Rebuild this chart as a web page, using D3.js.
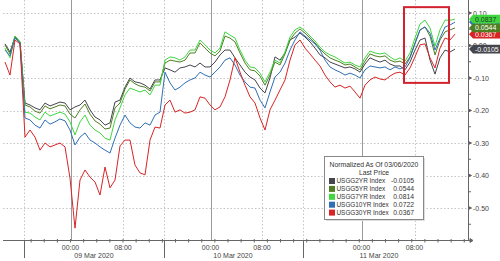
<!DOCTYPE html>
<html>
<head>
<meta charset="utf-8">
<script src="https://cdn.jsdelivr.net/npm/d3@7/dist/d3.min.js"></script>
<style>
  body { margin: 0; background: #fff; }
  svg { display: block; font-family: "Liberation Sans", Arial, sans-serif; }
  .grid line { stroke: #c4c4c4; stroke-dasharray: 1.5,2; }
  .grid line.solid { stroke: #9a9a9a; stroke-dasharray: none; }
  .axis text { fill: #444; font-size: 7px; }
  .axis line, .axis path { stroke: #666; }
</style>
</head>
<body>
<svg id="chart" width="500" height="261"></svg>
<script>
// ---- data: normalized yield change since 03/06/2020, one sample per slot ----
const seriesNames = ["USGG2YR Index", "USGG5YR Index", "USGG7YR Index", "USGG10YR Index", "USGG30YR Index"];
const lastPrices  = ["-0.0105", "0.0544", "0.0814", "0.0722", "0.0367"];
const tagText     = ["-0.0105", "0.0544", "0.0837", "0.0722", "0.0367"];
const colors      = ["#45454d", "#4f7f22", "#3fd63f", "#2f6fb6", "#d82424"];

const usgg2yr = [0.005, -0.020, 0.026, 0.011, -0.177, -0.183, -0.192, -0.198, -0.177, -0.186,
  -0.180, -0.174, -0.177, -0.198, -0.189, -0.183, -0.168, -0.198, -0.220, -0.229,
  -0.245, -0.238, -0.174, -0.168, -0.128, -0.100, -0.112, -0.115, -0.122, -0.134,
  -0.106, -0.106, -0.069, -0.075, -0.082, -0.069, -0.066, -0.060, -0.066, -0.054,
  -0.066, -0.066, -0.051, -0.029, -0.014, -0.014, -0.038, -0.060, -0.082, -0.097,
  -0.106, -0.131, -0.146, -0.100, -0.035, -0.045, -0.023, 0.017, 0.026, 0.038,
  0.026, 0.011, -0.008, -0.029, -0.038, -0.051, -0.057, -0.063, -0.069, -0.066,
  -0.072, -0.082, -0.057, -0.038, -0.045, -0.051, -0.045, -0.057, -0.063, -0.063,
  -0.075, -0.051, -0.014, 0.017, 0.023, -0.045, -0.088, -0.038, -0.014, -0.020, -0.011];

const usgg5yr = [0.002, -0.026, 0.029, 0.011, -0.183, -0.189, -0.202, -0.208, -0.186, -0.195,
  -0.189, -0.183, -0.186, -0.211, -0.223, -0.198, -0.180, -0.211, -0.232, -0.242,
  -0.257, -0.254, -0.192, -0.177, -0.134, -0.106, -0.118, -0.125, -0.128, -0.140,
  -0.112, -0.112, -0.054, -0.045, -0.048, -0.051, -0.045, -0.023, -0.023, 0.008,
  -0.008, -0.023, -0.032, -0.017, 0.029, 0.023, 0.011, -0.023, -0.054, -0.075,
  -0.078, -0.094, -0.122, -0.091, -0.051, -0.060, -0.026, 0.017, 0.038, 0.051,
  0.038, 0.023, 0.008, -0.011, -0.026, -0.038, -0.045, -0.051, -0.060, -0.057,
  -0.066, -0.075, -0.048, -0.026, -0.032, -0.035, -0.032, -0.045, -0.051, -0.048,
  -0.057, -0.035, 0.008, 0.048, 0.057, 0.029, -0.029, 0.017, 0.042, 0.048, 0.054];

const usgg7yr = [-0.008, -0.038, 0.029, 0.011, -0.205, -0.208, -0.220, -0.229, -0.205, -0.217,
  -0.211, -0.205, -0.211, -0.235, -0.275, -0.235, -0.214, -0.245, -0.260, -0.269,
  -0.285, -0.291, -0.229, -0.192, -0.152, -0.131, -0.137, -0.143, -0.137, -0.152,
  -0.122, -0.122, -0.045, -0.035, -0.038, -0.045, -0.035, -0.014, -0.014, 0.017,
  0.002, -0.014, -0.023, -0.008, 0.042, 0.032, 0.023, -0.014, -0.045, -0.066,
  -0.069, -0.085, -0.112, -0.082, -0.045, -0.054, -0.020, 0.026, 0.048, 0.057,
  0.045, 0.029, 0.014, -0.005, -0.020, -0.029, -0.035, -0.045, -0.054, -0.051,
  -0.060, -0.066, -0.038, -0.017, -0.023, -0.026, -0.023, -0.035, -0.045, -0.038,
  -0.048, -0.023, 0.023, 0.066, 0.078, 0.054, -0.002, 0.048, 0.078, 0.078, 0.081];

const usgg10yr = [-0.014, -0.032, 0.023, 0.008, -0.223, -0.229, -0.245, -0.254, -0.229, -0.242,
  -0.235, -0.226, -0.232, -0.260, -0.306, -0.282, -0.269, -0.291, -0.300, -0.312,
  -0.322, -0.331, -0.285, -0.245, -0.214, -0.238, -0.251, -0.254, -0.238, -0.245,
  -0.214, -0.205, -0.082, -0.115, -0.137, -0.128, -0.115, -0.106, -0.100, -0.082,
  -0.091, -0.097, -0.082, -0.066, -0.045, -0.038, -0.060, -0.091, -0.112, -0.128,
  -0.131, -0.168, -0.192, -0.143, -0.097, -0.082, -0.054, -0.014, 0.017, 0.042,
  0.029, 0.017, 0.005, -0.014, -0.045, -0.066, -0.075, -0.082, -0.091, -0.085,
  -0.091, -0.100, -0.075, -0.063, -0.066, -0.069, -0.066, -0.075, -0.066, -0.072,
  -0.066, -0.038, 0.005, 0.048, 0.057, 0.038, -0.014, 0.023, 0.057, 0.063, 0.072];

const usgg30yr = [-0.051, -0.091, 0.017, 0.005, -0.282, -0.260, -0.282, -0.322, -0.300, -0.312,
  -0.306, -0.300, -0.312, -0.408, -0.562, -0.414, -0.383, -0.405, -0.420, -0.460,
  -0.374, -0.438, -0.414, -0.309, -0.291, -0.291, -0.368, -0.392, -0.398, -0.291,
  -0.251, -0.254, -0.183, -0.168, -0.205, -0.198, -0.208, -0.205, -0.198, -0.158,
  -0.162, -0.183, -0.198, -0.189, -0.158, -0.106, -0.038, -0.082, -0.122, -0.158,
  -0.177, -0.223, -0.260, -0.198, -0.168, -0.137, -0.106, -0.045, 0.002, 0.017,
  -0.008, -0.026, -0.045, -0.063, -0.091, -0.112, -0.128, -0.122, -0.131, -0.125,
  -0.143, -0.162, -0.122, -0.106, -0.097, -0.103, -0.106, -0.094, -0.085, -0.082,
  -0.091, -0.069, -0.035, 0.002, 0.005, -0.038, -0.069, -0.008, 0.023, 0.017, 0.035];

// x axis, in sample slots
const dayBreaks   = [3.86, 31.8, 59.66];
const hourTicks   = [13.1, 23.6, 41.1, 51.4, 71.3, 81.9];
const hourLabels  = ["00:00", "08:00", "00:00", "08:00", "00:00", "08:00"];
const solidTicks  = [13.1, 41.1, 71.3];           // 00:00 gridlines are solid
const dayLabels   = ["09 Mar 2020", "10 Mar 2020", "11 Mar 2020"];
const dayLabelPos = [17.8, 45.6, 74.8];
const yTicks      = [0.1, 0, -0.1, -0.2, -0.3, -0.4, -0.5];

// highlighted box around the latest moves
const boxSlots  = [79.8, 88.8];
const boxValues = [0.118, -0.115];

const allSeries = [usgg2yr, usgg5yr, usgg7yr, usgg10yr, usgg30yr];

const svg = d3.select("#chart");
const plot = { left: 3, right: 468, top: 0, bottom: 240 };

const x = d3.scaleLinear().domain([-0.4, 92.6]).range([plot.left, plot.right]);
const y = d3.scaleLinear().domain([-0.6, 0.14]).range([plot.bottom + 0.5, plot.top]);

// gridlines
const grid = svg.append("g").attr("class", "grid");
grid.selectAll("line.h").data(yTicks).join("line")
  .attr("class", "h")
  .attr("x1", plot.left).attr("x2", plot.right)
  .attr("y1", d => Math.round(y(d)) + 0.5).attr("y2", d => Math.round(y(d)) + 0.5);
grid.selectAll("line.v").data(dayBreaks.concat(hourTicks)).join("line")
  .attr("class", d => solidTicks.includes(d) ? "v solid" : "v")
  .attr("x1", d => Math.round(x(d)) + 0.5).attr("x2", d => Math.round(x(d)) + 0.5)
  .attr("y1", plot.top).attr("y2", plot.bottom);

// lines
const line = d3.line()
  .x((d, i) => x(i))
  .y(d => y(d));

svg.append("g").selectAll("path").data(allSeries).join("path")
  .attr("fill", "none")
  .attr("stroke", (d, i) => colors[i])
  .attr("stroke-width", 1)
  .attr("stroke-linejoin", "round")
  .attr("d", line);

// bottom axis
const xAxisG = svg.append("g").attr("class", "axis")
  .attr("transform", "translate(0," + plot.bottom + ")");
xAxisG.append("line")
  .attr("x1", plot.left).attr("x2", plot.right + 2)
  .attr("y1", 0.5).attr("y2", 0.5);
xAxisG.append("path")
  .attr("d", "M" + (plot.right + 2) + ",-1.5L" + (plot.right + 5) + ",0.5L" + (plot.right + 2) + ",2.5Z")
  .attr("fill", "#666").attr("stroke", "none");

// minor ticks every 2 hours (8h = 10.5 slots)
const minor = [];
for (let t = 13.1 - 2.625 * 3; t < 92; t += 2.625) minor.push(t);
xAxisG.selectAll("line.minor").data(minor.filter(d => d > 0)).join("line")
  .attr("class", "minor")
  .attr("x1", d => x(d)).attr("x2", d => x(d))
  .attr("y1", -1).attr("y2", 2.5);
xAxisG.selectAll("line.brk").data(dayBreaks).join("line")
  .attr("class", "brk")
  .attr("x1", d => Math.round(x(d)) + 0.5).attr("x2", d => Math.round(x(d)) + 0.5)
  .attr("y1", 0).attr("y2", 18);
xAxisG.selectAll("text.hour").data(hourTicks).join("text")
  .attr("class", "hour")
  .attr("x", d => x(d)).attr("y", 9.5)
  .attr("text-anchor", "middle")
  .text((d, i) => hourLabels[i]);
xAxisG.selectAll("text.day").data(dayLabelPos).join("text")
  .attr("class", "day")
  .attr("x", d => x(d)).attr("y", 17.5)
  .attr("text-anchor", "middle")
  .text((d, i) => dayLabels[i]);

// right axis
const yAxisG = svg.append("g").attr("class", "axis")
  .attr("transform", "translate(" + (plot.right + 0.5) + ",0)");
yAxisG.append("line")
  .attr("x1", 0).attr("x2", 0)
  .attr("y1", plot.top).attr("y2", plot.bottom + 0.5);
yAxisG.selectAll("line.ym").data(yTicks.map(d => d - 0.05).concat([0.15])).join("line")
  .attr("class", "ym")
  .attr("x1", 0).attr("x2", 2.5)
  .attr("y1", d => y(d)).attr("y2", d => y(d));
yAxisG.selectAll("path.yt").data(yTicks).join("path")
  .attr("class", "yt")
  .attr("fill", "#555").attr("stroke", "none")
  .attr("d", d => "M0," + (y(d) - 1.5) + "L3," + y(d) + "L0," + (y(d) + 1.5) + "Z");
yAxisG.selectAll("text").data(yTicks).join("text")
  .attr("x", 4.5).attr("y", d => y(d) + 2.5)
  .text(d => d.toFixed(2));

// last value tags on the right (they sit over the axis labels, as in Bloomberg)
const tagOrder = [3, 4, 0, 2, 1];
const tags = svg.append("g");
tagOrder.forEach(i => {
  const s = allSeries[i];
  const ty = y(s[s.length - 1]);
  const g = tags.append("g").attr("transform", "translate(" + (plot.right + 1) + "," + ty + ")");
  g.append("path")
    .attr("d", "M0,0L4,-4.3H40V4.3H4Z")
    .attr("fill", colors[i]);
  g.append("text")
    .attr("x", 6).attr("y", 2.5)
    .attr("font-size", "7px")
    .attr("fill", i === 2 ? "#1a3a1a" : "#fff")
    .text(tagText[i]);
});

// highlight box
svg.append("rect")
  .attr("x", x(boxSlots[0])).attr("y", y(boxValues[0]))
  .attr("width", x(boxSlots[1]) - x(boxSlots[0]))
  .attr("height", y(boxValues[1]) - y(boxValues[0]))
  .attr("fill", "none")
  .attr("stroke", "#d2222e")
  .attr("stroke-width", 2);

// legend
const lg = svg.append("g").attr("transform", "translate(324.5,156.5)");
lg.append("rect")
  .attr("x", 1.5).attr("y", 1.5).attr("width", 99).attr("height", 63)
  .attr("fill", "#ddd");
lg.append("rect")
  .attr("width", 99).attr("height", 63)
  .attr("fill", "#fff").attr("stroke", "#888");
lg.append("text")
  .attr("x", 49.5).attr("y", 10.3)
  .attr("text-anchor", "middle").attr("font-size", "6.8px").attr("fill", "#333")
  .text("Normalized As Of 03/06/2020");
lg.append("text")
  .attr("x", 49.5).attr("y", 18.6)
  .attr("text-anchor", "middle").attr("font-size", "6.8px").attr("fill", "#333")
  .text("Last Price");
const rows = lg.selectAll("g.row").data(seriesNames).join("g")
  .attr("class", "row")
  .attr("transform", (d, i) => "translate(0," + (24.5 + i * 7.9) + ")");
rows.append("rect")
  .attr("x", 4.5).attr("y", -3).attr("width", 6).attr("height", 6)
  .attr("fill", (d, i) => colors[i]);
rows.append("text")
  .attr("x", 12).attr("y", 2.4)
  .attr("font-size", "6.4px").attr("fill", "#333")
  .text(d => d);
rows.append("text")
  .attr("x", 89.5).attr("y", 2.4)
  .attr("text-anchor", "end")
  .attr("font-size", "6.8px").attr("fill", "#333")
  .text((d, i) => lastPrices[i]);
</script>
</body>
</html>
